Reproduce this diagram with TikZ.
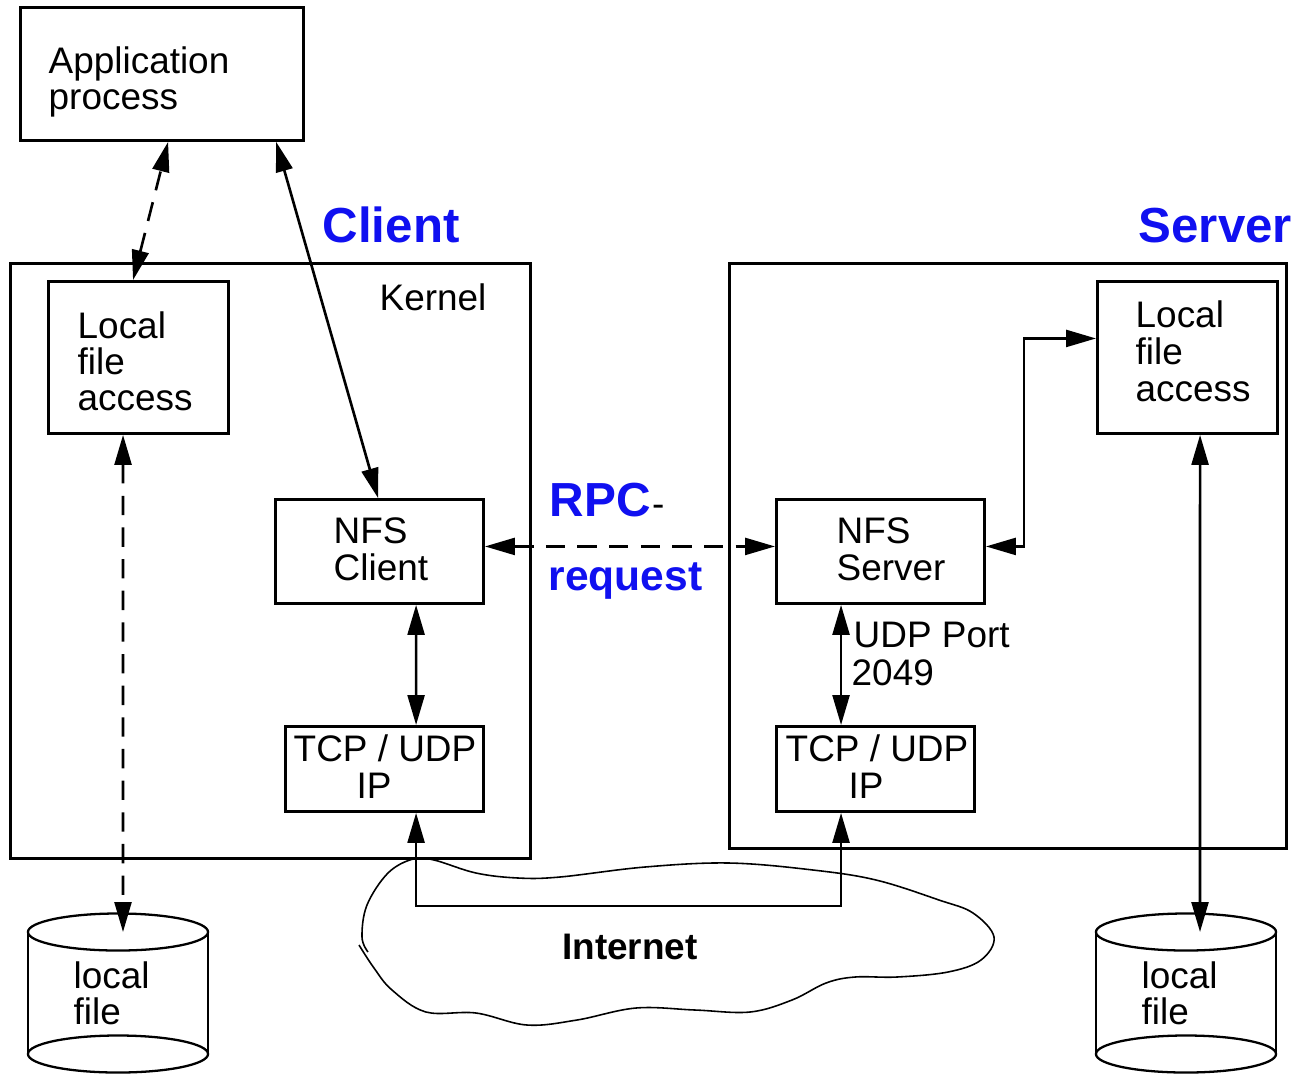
\documentclass[tikz,border=0pt]{standalone}
\usepackage{fontspec}
\setmainfont{Liberation Sans}
\usetikzlibrary{arrows.meta}
\definecolor{ttlblue}{RGB}{16,16,240}
\begin{document}
\begin{tikzpicture}[x=0.01cm,y=-0.01cm,
  box/.style={draw,line width=0.8pt,inner sep=0pt,anchor=north west},
  txt/.style={anchor=base west,inner sep=0pt,font=\fontsize{10.5pt}{10.5pt}\selectfont},
  ttl/.style={anchor=base west,inner sep=0pt,text=ttlblue,font=\fontsize{14pt}{14pt}\selectfont\bfseries},
  con/.style={line width=0.75pt,{Triangle[length=8.5pt,width=4.8pt]}-{Triangle[length=8.5pt,width=4.8pt]}},
  dsh/.style={dash pattern=on 5.5pt off 3.5pt},
  cyl/.style={line width=0.65pt}]
\useasboundingbox (0,0) rectangle (1300,1075);

% boxes
\node[box,minimum width=2.83cm,minimum height=1.33cm] (app) at (19,6) {};
\node[box,minimum width=5.20cm,minimum height=5.95cm] (ckern) at (9,262) {};
\node[box,minimum width=1.80cm,minimum height=1.52cm] (clfa) at (47,280) {};
\node[box,minimum width=2.08cm,minimum height=1.04cm] (nfsc) at (274,498) {};
\node[box,minimum width=1.98cm,minimum height=0.85cm] (tcpc) at (284,725) {};
\node[box,minimum width=5.57cm,minimum height=5.85cm] (skern) at (728,262) {};
\node[box,minimum width=1.80cm,minimum height=1.52cm] (slfa) at (1096,280) {};
\node[box,minimum width=2.08cm,minimum height=1.04cm] (nfss) at (775,498) {};
\node[box,minimum width=1.98cm,minimum height=0.85cm] (tcps) at (775,725) {};

% texts
\node[txt] (t1) at (48,73) {Application};
\node[txt] (t2) at (48,109) {process};
\node[txt] (tk) at (379,310) {Kernel};
\node[txt] (t3) at (77,338) {Local};
\node[txt] (t4) at (77,374) {file};
\node[txt] (t5) at (77,410) {access};
\node[txt] (t6) at (1135,327) {Local};
\node[txt] (t7) at (1135,364) {file};
\node[txt] (t8) at (1135,401) {access};
\node[txt] (t9) at (333,543) {NFS};
\node[txt] (t10) at (333,580) {Client};
\node[txt] (t11) at (836,543) {NFS};
\node[txt] (t12) at (836,580) {Server};
\node[txt] (t13) at (293,761) {TCP / UDP};
\node[txt] (t14) at (356,798) {IP};
\node[txt] (t15) at (785,761) {TCP / UDP};
\node[txt] (t16) at (848,798) {IP};
\node[txt] (t17) at (853,647) {UDP Port};
\node[txt] (t18) at (851,685) {2049};
\node[txt] (t19) at (73,988) {local};
\node[txt] (t20) at (73,1024) {file};
\node[txt] (t21) at (1141,988) {local};
\node[txt] (t22) at (1141,1024) {file};

% titles
\node[ttl] (client) at (322,242) {Client};
\node[ttl] (server) at (1138,242) {Server};
\node[ttl,font=\fontsize{13.6pt}{13.6pt}\selectfont\bfseries] (rpc) at (549,516) {RPC};
\node[txt,anchor=base west] (hy) at (rpc.base east) {-};
\node[ttl,font=\fontsize{12.1pt}{12.1pt}\selectfont\bfseries] (req) at (548,590) {request};
\node[anchor=base,inner sep=0pt,font=\fontsize{10.5pt}{10.5pt}\selectfont\bfseries] (inet) at (630,959) {Internet};

% cylinders
\draw[cyl] (118,932) ellipse (0.9cm and 0.185cm);
\draw[cyl] (118,1054) ellipse (0.9cm and 0.185cm);
\draw[cyl] (28,932) -- (28,1054) (208,932) -- (208,1054);
\draw[cyl] (1186,932) ellipse (0.9cm and 0.185cm);
\draw[cyl] (1186,1054) ellipse (0.9cm and 0.185cm);
\draw[cyl] (1096,932) -- (1096,1054) (1276,932) -- (1276,1054);
\coordinate (cyl1top) at (123,932);
\coordinate (cyl2top) at (1200,932);

% cloud
\draw[line width=0.45pt] plot[smooth,tension=0.6] coordinates {
 (359,945) (374,968) (392,990) (426,1012) (476,1013) (527,1025) (577,1020)
 (636,1008) (695,1010) (750,1012) (792,1000) (826,983) (855,977) (897,977)
 (948,972) (981,960) (994,937) (973,913) (939,900) (876,880) (813,870)
 (729,863) (645,867) (560,877) (518,878) (476,873) (434,860) (413,859)
 (388,873) (367,905) (362,937) (368,952)};

% connectors
\draw[con,dsh] ([xshift=0.86cm]clfa.north west) -- ([xshift=1.49cm]app.south west);
\draw[con] ([xshift=1.04cm]nfsc.north west) -- ([xshift=2.57cm]app.south west);
\draw[con,dsh] ([xshift=0.76cm]clfa.south west) -- (cyl1top);
\draw[con] ([xshift=1.42cm]nfsc.south west) -- ([xshift=1.32cm]tcpc.north west);
\draw[con,dsh] ([yshift=0.05cm]nfsc.east) -- ([yshift=0.05cm]nfss.west);
\draw[con] ([yshift=0.05cm]nfss.east) -- ++(0.38cm,0) |- ([yshift=0.19cm]slfa.west);
\draw[con] ([xshift=0.66cm]nfss.south west) -- ([xshift=0.66cm]tcps.north west);
\draw[con] ([xshift=1.04cm]slfa.south west) -- (cyl2top);
\draw[con] ([xshift=1.32cm]tcpc.south west) -- ++(0,-0.93cm) -| ([xshift=0.66cm]tcps.south west);
\end{tikzpicture}
\end{document}
